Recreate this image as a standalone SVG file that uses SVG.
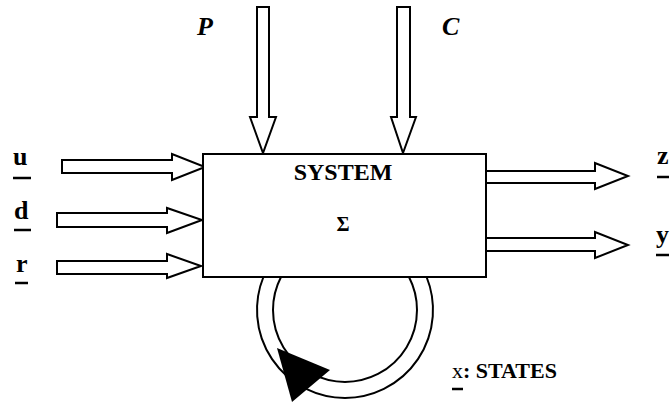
<svg xmlns="http://www.w3.org/2000/svg" width="670" height="402" viewBox="0 0 670 402">
<style>
.ar{fill:#fff;stroke:#000;stroke-width:2;stroke-linejoin:miter}
.ln{fill:none;stroke:#000;stroke-width:2}
.ul{stroke:#000;stroke-width:2.5}
.t{font-family:"Liberation Serif","Times New Roman",serif;font-weight:bold;fill:#000}
</style>
<rect width="670" height="402" fill="#fff"/>
<g id="connectors">
<polygon class="ar" points="62,160 172,160 172,154 205,167 172,180 172,173 62,173"/>
<polygon class="ar" points="57,213 167,213 167,208 202,220 167,233 167,227 57,227"/>
<polygon class="ar" points="57,261 167,261 167,254 201,266 167,278 167,274 57,274"/>
<polygon class="ar" points="257,7 269,7 269,117 276,117 263,153 250,117 257,117"/>
<polygon class="ar" points="397,7 410,7 410,117 416,117 403,153 391,117 397,117"/>
<polygon class="ar" points="486,171 595,171 595,163 628,176 595,189 595,183 486,183"/>
<polygon class="ar" points="486,238 595,238 595,232 628,245 595,258 595,251 486,251"/>
<path class="ln" d="M263.4 277 A88 88 0 1 0 426.6 277"/>
<path class="ln" d="M281 277 A72 72 0 1 0 409 277"/>
<polygon points="277,348 330,370 292,402" fill="#000"/>
</g>
<g id="system">
<rect x="203" y="154" width="283" height="123" fill="#fff" stroke="#000" stroke-width="2"/>
<text class="t" x="343" y="180" font-size="24" text-anchor="middle">SYSTEM</text>
<text class="t" x="343" y="231" font-size="20" text-anchor="middle">Σ</text>
</g>
<g id="label-P"><text class="t" x="197" y="35" font-size="26" font-style="italic">P</text></g>
<g id="label-C"><text class="t" x="442" y="35" font-size="26" font-style="italic">C</text></g>
<g id="label-u"><text class="t" x="13" y="165" font-size="26">u</text><line class="ul" x1="13" y1="178" x2="31" y2="178"/></g>
<g id="label-d"><text class="t" x="14" y="219" font-size="26">d</text><line class="ul" x1="14" y1="230" x2="31" y2="230"/></g>
<g id="label-r"><text class="t" x="16" y="272" font-size="26">r</text><line class="ul" x1="15" y1="283" x2="28" y2="283"/></g>
<g id="label-z"><text class="t" x="657" y="164" font-size="26">z</text><line class="ul" x1="657" y1="177" x2="669" y2="177"/></g>
<g id="label-y"><text class="t" x="656" y="243" font-size="26">y</text><line class="ul" x1="656" y1="255" x2="669" y2="255"/></g>
<g id="label-states"><text class="t" x="452" y="378" font-size="22"><tspan font-weight="normal">x</tspan>: STATES</text><line class="ul" x1="452" y1="389" x2="463" y2="389"/></g>
</svg>
